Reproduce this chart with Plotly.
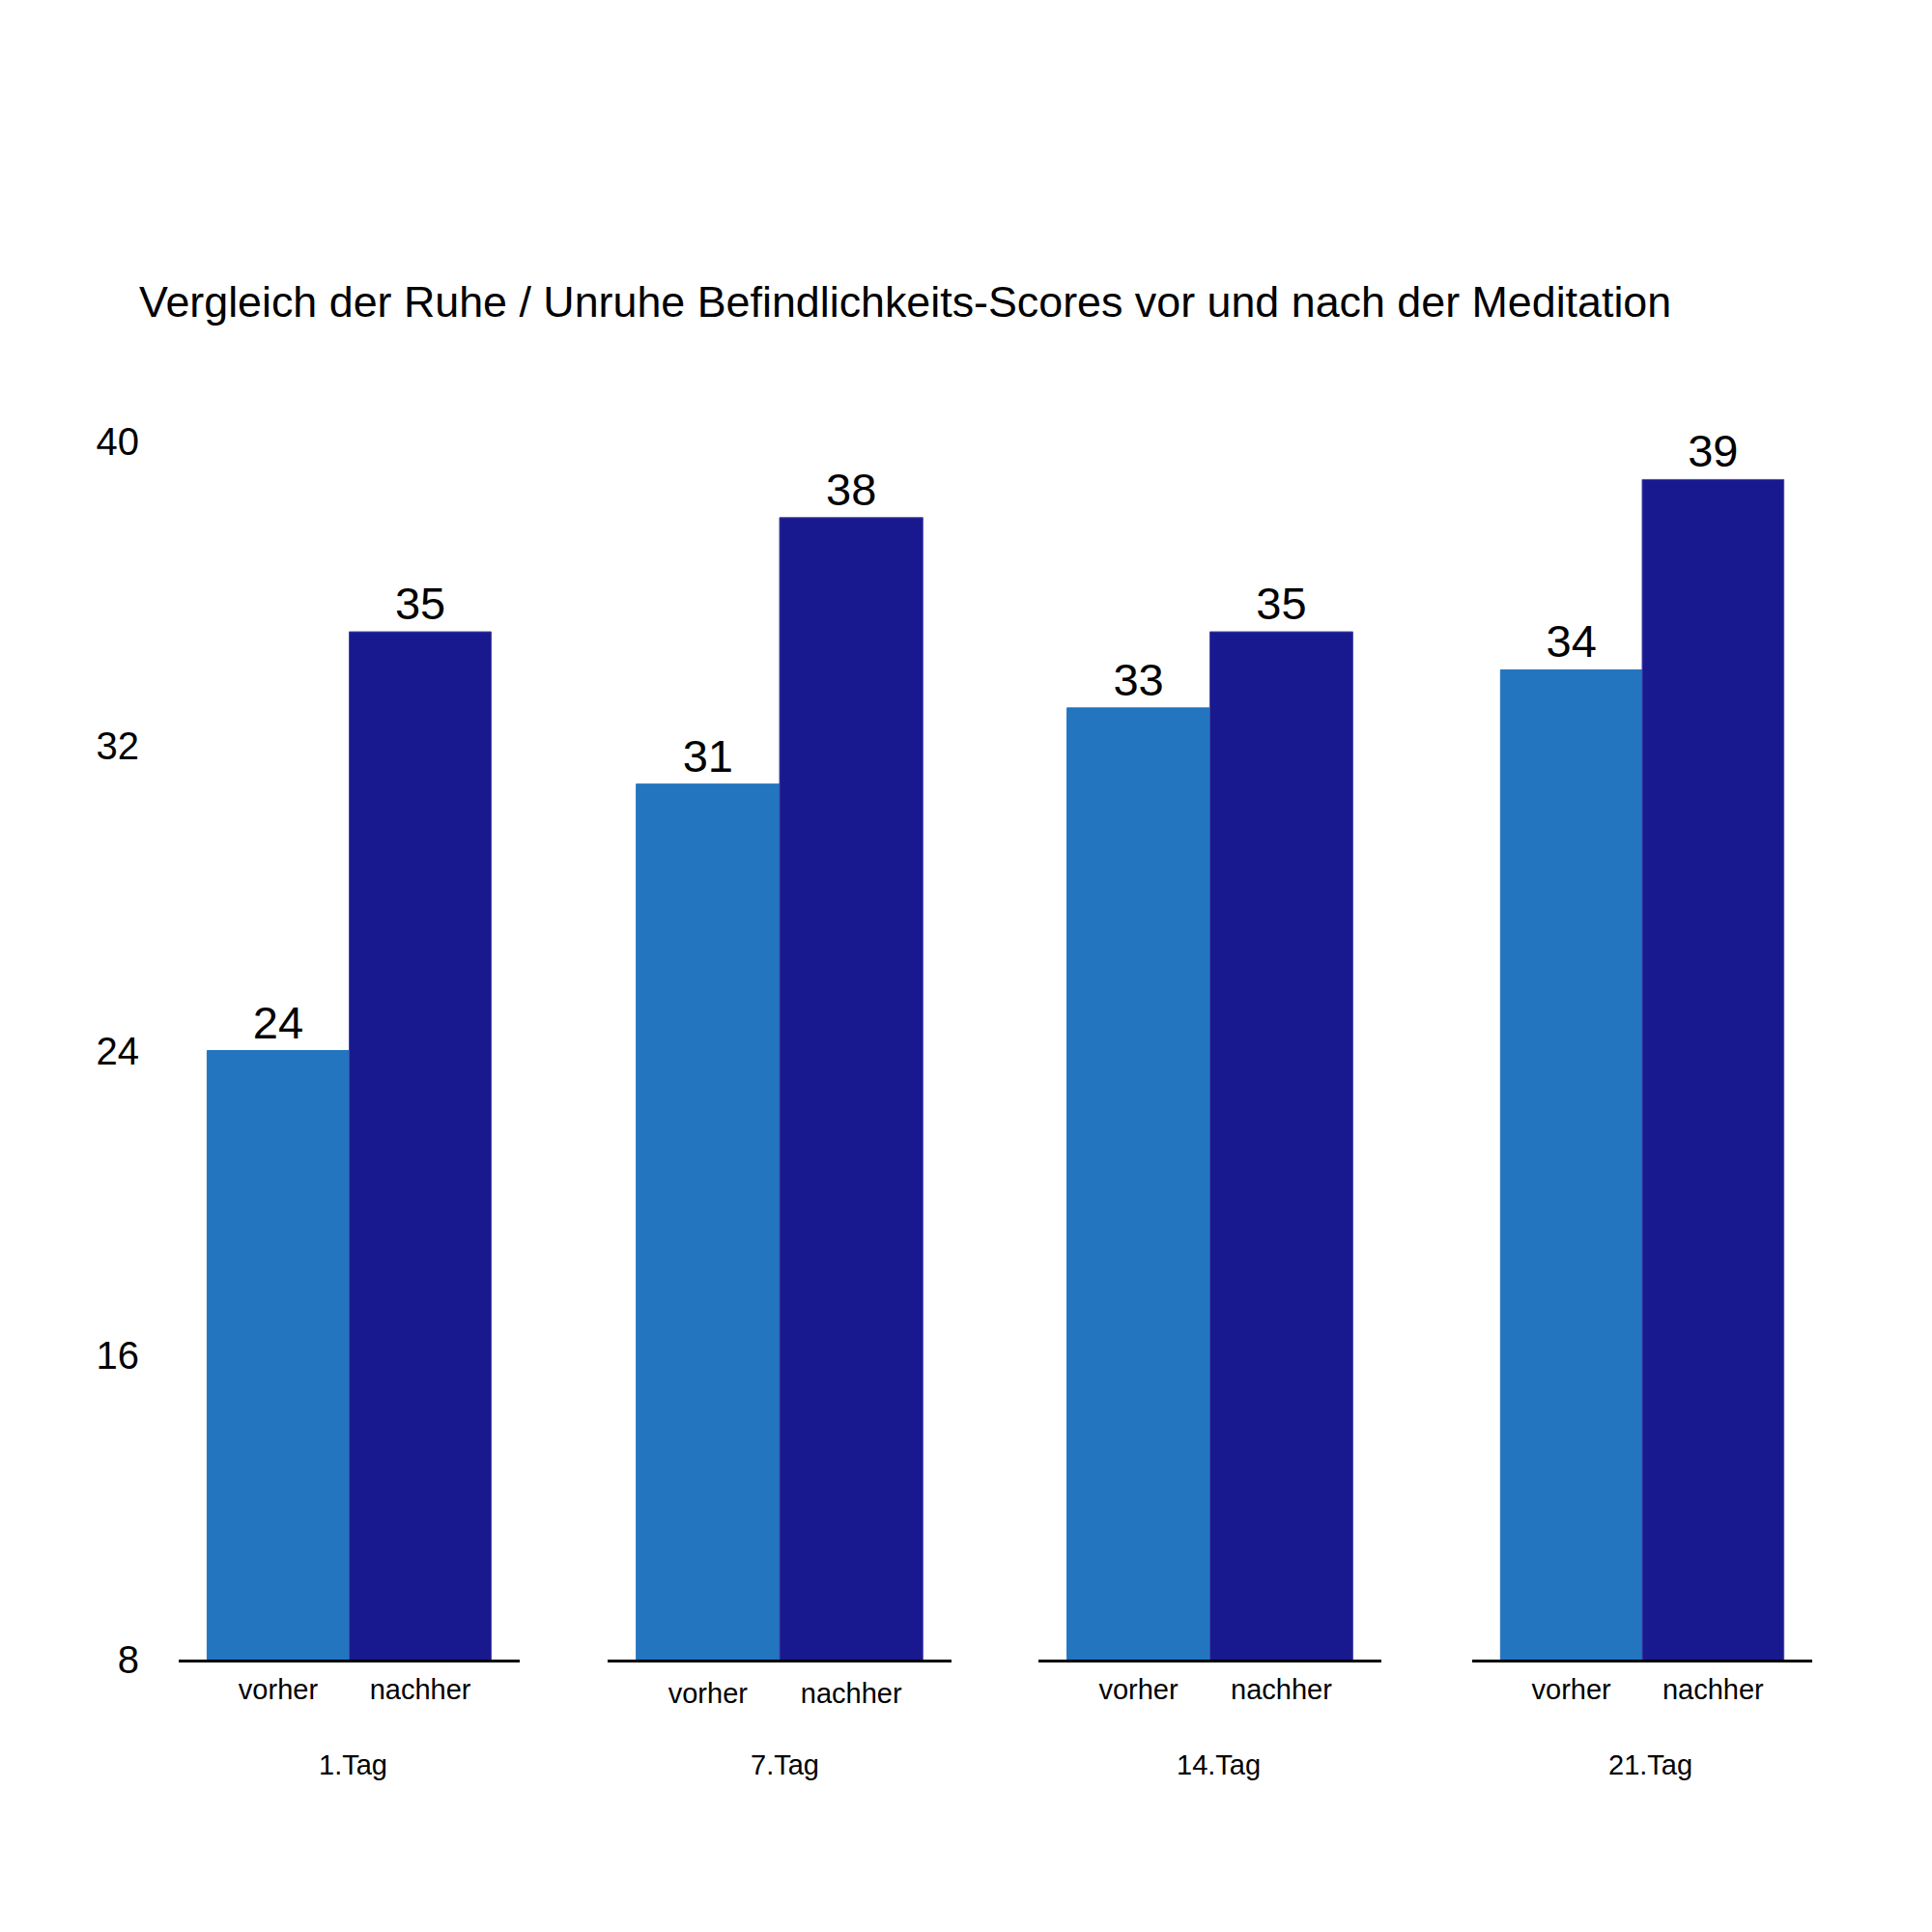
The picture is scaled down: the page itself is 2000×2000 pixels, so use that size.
import plotly.graph_objs as go

# data
days = ['1.Tag', '7.Tag', '14.Tag', '21.Tag']
phases = ['vorher', 'nachher']
vorher = [24, 31, 33, 34]
nachher = [35, 38, 35, 39]
y_ticks = [8, 16, 24, 32, 40]

title = 'Vergleich der Ruhe / Unruhe Befindlichkeits-Scores vor und nach der Meditation'

light = '#2375C0'
dark = '#19198F'
font = 'Liberation Sans, Arial, Helvetica, sans-serif'

W, H = 2000, 2000
OFF = 8  # the page body adds a margin of 8px
top, bottom = 457 - OFF, 282 + OFF
# group x positions in px (left, right) of each baseline
groups_px = [(185, 538), (629, 985), (1075, 1430), (1524, 1876)]
label_pad = [3, 7, 3, 3]
day_x = [0.51, 0.515, 0.525, 0.525]

data = []
for i, day in enumerate(days):
    ax = '' if i == 0 else str(i + 1)
    data.append(go.Bar(
        x=[0, 1],
        y=[vorher[i], nachher[i]],
        width=1,
        marker=dict(color=[light, dark],
                    line=dict(color=[light, '#4646A6'], width=1)),
        text=[vorher[i], nachher[i]],
        textposition='outside',
        textfont=dict(family=font, size=47, color='black'),
        cliponaxis=False,
        xaxis='x' + ax,
        yaxis='y',
        hoverinfo='skip',
    ))

layout = dict(
    width=W,
    height=H,
    showlegend=False,
    paper_bgcolor='white',
    plot_bgcolor='white',
    font=dict(family=font, color='black'),
    margin=dict(l=0, r=0, t=top, b=bottom),
    title=dict(
        text=title,
        font=dict(family=font, size=44.8, color='black'),
        x=(144 - OFF) / W, xanchor='left', xref='container',
        y=1 - (312 - OFF) / H, yanchor='middle', yref='container',
    ),
    yaxis=dict(
        range=[8, 40],
        tickvals=y_ticks,
        ticktext=[str(v) for v in y_ticks],
        tickfont=dict(family=font, size=40, color='black'),
        showgrid=False, zeroline=False, showline=False,
        ticks='', ticklabelstandoff=40,
        anchor='x',
    ),
    annotations=[],
)

for i, (x0, x1) in enumerate(groups_px):
    key = 'xaxis' if i == 0 else 'xaxis%d' % (i + 1)
    layout[key] = dict(
        domain=[(x0 - OFF) / W, (x1 - OFF) / W],
        range=[-0.7, 1.7],
        tickvals=[0, 1],
        ticktext=phases,
        tickfont=dict(family=font, size=29, color='black'),
        showgrid=False, zeroline=False,
        showline=True, linecolor='black', linewidth=2.5,
        ticks='', ticklabelstandoff=label_pad[i],
        anchor='y',
        fixedrange=True,
    )
    layout['annotations'].append(dict(
        text=days[i],
        xref=('x' if i == 0 else 'x%d' % (i + 1)) + ' domain',
        x=day_x[i], xanchor='center',
        yref='paper', y=(1718 - 1827) / (H - top - bottom), yanchor='middle',
        showarrow=False,
        font=dict(family=font, size=29, color='black'),
    ))

fig = go.Figure(data=data, layout=layout)
fig.write_html('out.html')
